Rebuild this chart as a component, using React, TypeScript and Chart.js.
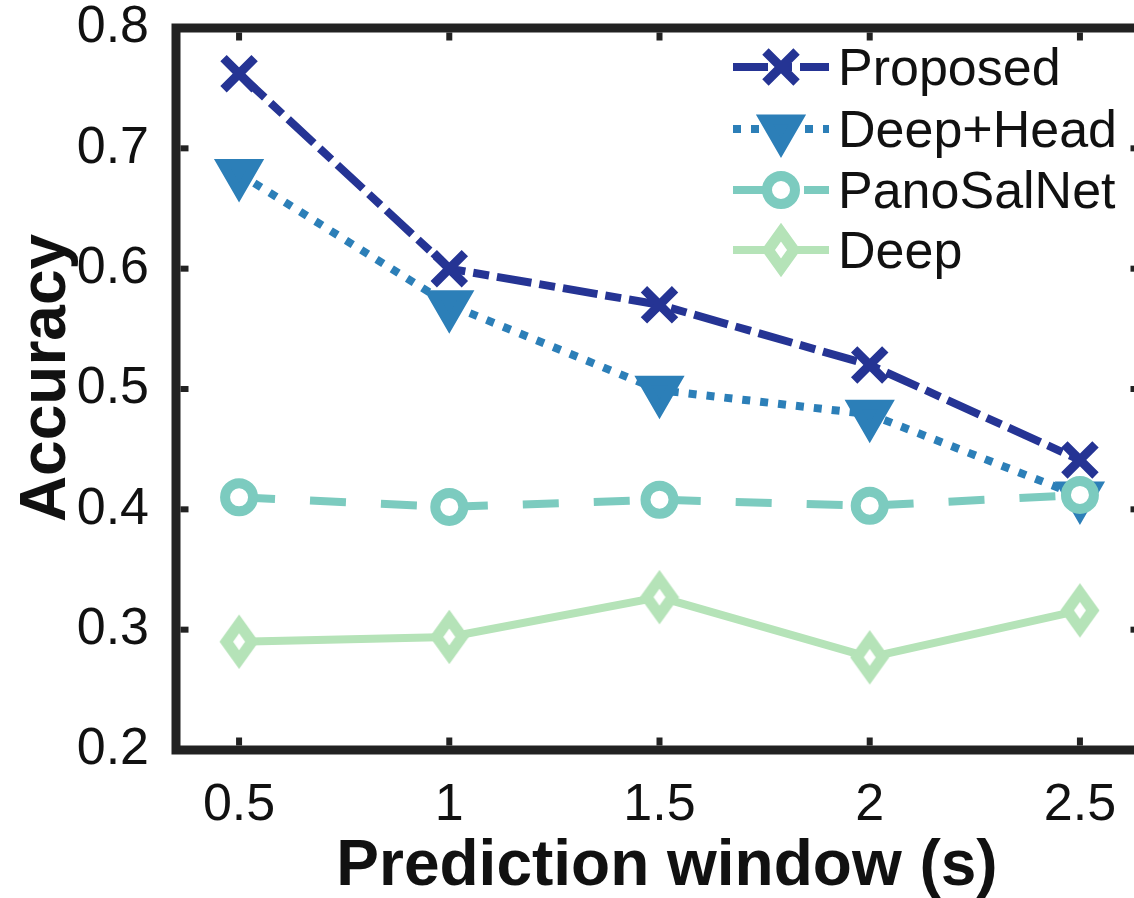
import React, { useEffect, useRef } from "react";
import { Chart, registerables } from "chart.js";
import { drawPoint } from "chart.js/helpers";

Chart.register(...registerables);

const xValues = [0.5, 1, 1.5, 2, 2.5];
const proposed = [0.762, 0.6, 0.57, 0.52, 0.441];
const deepHead = [0.679, 0.57, 0.499, 0.479, 0.411];
const panoSalNet = [0.41, 0.402, 0.408, 0.403, 0.412];
const deep = [0.29, 0.294, 0.327, 0.277, 0.316];
const seriesNames = ["Proposed", "Deep+Head", "PanoSalNet", "Deep"];
const xTicks = [0.5, 1, 1.5, 2, 2.5];
const yTicks = [0.2, 0.3, 0.4, 0.5, 0.6, 0.7, 0.8];
const xTitle = "Prediction window (s)";
const yTitle = "Accuracy";

const C_PROP = "#253494";
const C_DH = "#2c7fb8";
const C_PANO = "#7ccbbf";
const C_DEEP = "#b5e3b8";
const AXIS = "#222222";
const FONT = "'Liberation Sans', Arial, Helvetica, sans-serif";

function makeDiamond(color: string): HTMLCanvasElement {
  const c = document.createElement("canvas");
  const W = 40;
  const H = 56;
  c.width = W;
  c.height = H;
  const ctx = c.getContext("2d")!;
  const hx = 12.8;
  const hy = 17.9;
  ctx.beginPath();
  ctx.moveTo(W / 2, H / 2 - hy);
  ctx.lineTo(W / 2 + hx, H / 2);
  ctx.lineTo(W / 2, H / 2 + hy);
  ctx.lineTo(W / 2 - hx, H / 2);
  ctx.closePath();
  ctx.fillStyle = "#ffffff";
  ctx.fill();
  ctx.lineWidth = 11;
  ctx.lineJoin = "miter";
  ctx.strokeStyle = color;
  ctx.stroke();
  return c;
}

const zeroPad = (s: any) => {
  s.paddingTop = 0;
  s.paddingBottom = 0;
  s.paddingLeft = 0;
  s.paddingRight = 0;
};

export default function App() {
  const ref = useRef<HTMLCanvasElement | null>(null);

  useEffect(() => {
    if (!ref.current) return;
    const diamond = makeDiamond(C_DEEP);
    const toPts = (arr: number[]) => xValues.map((x, i) => ({ x, y: arr[i] }));

    const datasets: any[] = [
      {
        label: seriesNames[0],
        data: toPts(proposed),
        borderColor: C_PROP,
        backgroundColor: C_PROP,
        borderWidth: 8,
        borderDash: [35, 8, 16, 8],
        pointStyle: "crossRot",
        pointRadius: 22,
        pointBorderWidth: 9,
        pointBorderColor: C_PROP,
        pointBackgroundColor: C_PROP,
        order: 0,
      },
      {
        label: seriesNames[1],
        data: toPts(deepHead),
        borderColor: C_DH,
        backgroundColor: C_DH,
        borderWidth: 8,
        borderDash: [8, 10],
        pointStyle: "triangle",
        pointRotation: 180,
        pointRadius: 19,
        pointBorderWidth: 10,
        pointBorderColor: C_DH,
        pointBackgroundColor: C_DH,
        order: 2,
      },
      {
        label: seriesNames[2],
        data: toPts(panoSalNet),
        borderColor: C_PANO,
        backgroundColor: C_PANO,
        borderWidth: 8,
        borderDash: [36, 35],
        pointStyle: "circle",
        pointRadius: 14,
        pointBorderWidth: 10,
        pointBorderColor: C_PANO,
        pointBackgroundColor: "#ffffff",
        order: 1,
      },
      {
        label: seriesNames[3],
        data: toPts(deep),
        borderColor: C_DEEP,
        backgroundColor: C_DEEP,
        borderWidth: 8,
        borderDash: [],
        pointStyle: diamond,
        pointRadius: 20,
        order: 3,
      },
    ];

    const framePlugin = {
      id: "frame",
      afterDraw(chart: any) {
        const ctx = chart.ctx as CanvasRenderingContext2D;
        const a = chart.chartArea;
        const xs = chart.scales.x;
        const ys = chart.scales.y;
        ctx.save();
        ctx.setLineDash([]);
        ctx.strokeStyle = AXIS;
        ctx.lineWidth = 9;
        ctx.lineJoin = "miter";
        ctx.strokeRect(a.left, a.top, a.right - a.left, a.bottom - a.top);
        ctx.fillStyle = AXIS;
        const tl = 8;
        const tw = 6;
        const bw = 4.5;
        xTicks.forEach((v) => {
          const px = xs.getPixelForValue(v);
          ctx.fillRect(px - tw / 2, a.bottom - bw - tl, tw, tl);
          ctx.fillRect(px - tw / 2, a.top + bw, tw, tl);
        });
        yTicks.forEach((v) => {
          const py = ys.getPixelForValue(v);
          ctx.fillRect(a.left + bw, py - tw / 2, tl, tw);
          ctx.fillRect(a.right - bw - tl, py - tw / 2, tl, tw);
        });
        ctx.fillStyle = "#111111";
        ctx.font = `bold 64px ${FONT}`;
        ctx.textAlign = "center";
        ctx.textBaseline = "alphabetic";
        ctx.fillText(xTitle, 667, 885);
        ctx.save();
        ctx.translate(65, 378);
        ctx.rotate(-Math.PI / 2);
        ctx.fillText(yTitle, 0, 0);
        ctx.restore();
        const rows = [67, 129, 190, 250];
        chart.data.datasets.forEach((ds: any, i: number) => {
          const cy = rows[i];
          ctx.save();
          ctx.strokeStyle = ds.borderColor;
          ctx.lineWidth = ds.borderWidth;
          ctx.lineCap = "butt";
          ctx.setLineDash(ds.borderDash || []);
          ctx.beginPath();
          ctx.moveTo(733, cy);
          ctx.lineTo(829, cy);
          ctx.stroke();
          ctx.setLineDash([]);
          ctx.strokeStyle = ds.pointBorderColor || ds.borderColor;
          ctx.fillStyle = ds.pointBackgroundColor || ds.backgroundColor;
          ctx.lineWidth = ds.pointBorderWidth || 0;
          drawPoint(
            ctx,
            {
              pointStyle: ds.pointStyle,
              rotation: ds.pointRotation || 0,
              radius: ds.pointRadius,
              borderWidth: ds.pointBorderWidth || 0,
            } as any,
            781,
            cy
          );
          ctx.restore();
          ctx.fillStyle = "#111111";
          ctx.font = `52px ${FONT}`;
          ctx.textAlign = "left";
          ctx.textBaseline = "alphabetic";
          ctx.fillText(ds.label, 838, cy + 18);
        });
        ctx.restore();
      },
    };

    const chart = new Chart(ref.current, {
      type: "line",
      data: { datasets },
      options: {
        animation: false,
        responsive: false,
        devicePixelRatio: 1,
        layout: { autoPadding: false, padding: { left: 0, top: 28, right: 17, bottom: 0 } },
        plugins: { legend: { display: false }, tooltip: { enabled: false } },
        elements: { line: { tension: 0, borderCapStyle: "butt" } },
        scales: {
          x: {
            type: "linear",
            min: 0.35,
            max: 2.65,
            afterBuildTicks: (s: any) => {
              s.ticks = xTicks.map((v) => ({ value: v }));
            },
            afterFit: (s: any) => {
              s.height = 148;
              zeroPad(s);
            },
            grid: { display: false },
            border: { display: false },
            ticks: {
              padding: 22,
              color: "#111111",
              font: { family: FONT, size: 52, lineHeight: 1 },
              maxRotation: 0,
              autoSkip: false,
              callback: (v: any) => String(v),
            },
          },
          y: {
            type: "linear",
            min: 0.2,
            max: 0.8,
            afterBuildTicks: (s: any) => {
              s.ticks = yTicks.map((v) => ({ value: v }));
            },
            afterFit: (s: any) => {
              s.width = 176;
              zeroPad(s);
            },
            grid: { display: false },
            border: { display: false },
            ticks: {
              padding: 19,
              color: "#111111",
              font: { family: FONT, size: 52, lineHeight: 1 },
              autoSkip: false,
              callback: (v: any) => Number(v).toFixed(1),
            },
          },
        },
      },
      plugins: [framePlugin],
    } as any);

    return () => chart.destroy();
  }, []);

  return (
    <div
      style={{
        position: "fixed",
        left: 0,
        top: 0,
        width: 1134,
        height: 898,
        overflow: "hidden",
        background: "#ffffff",
      }}
    >
      <canvas ref={ref} width={1160} height={898} style={{ display: "block", width: 1160, height: 898 }} />
    </div>
  );
}
